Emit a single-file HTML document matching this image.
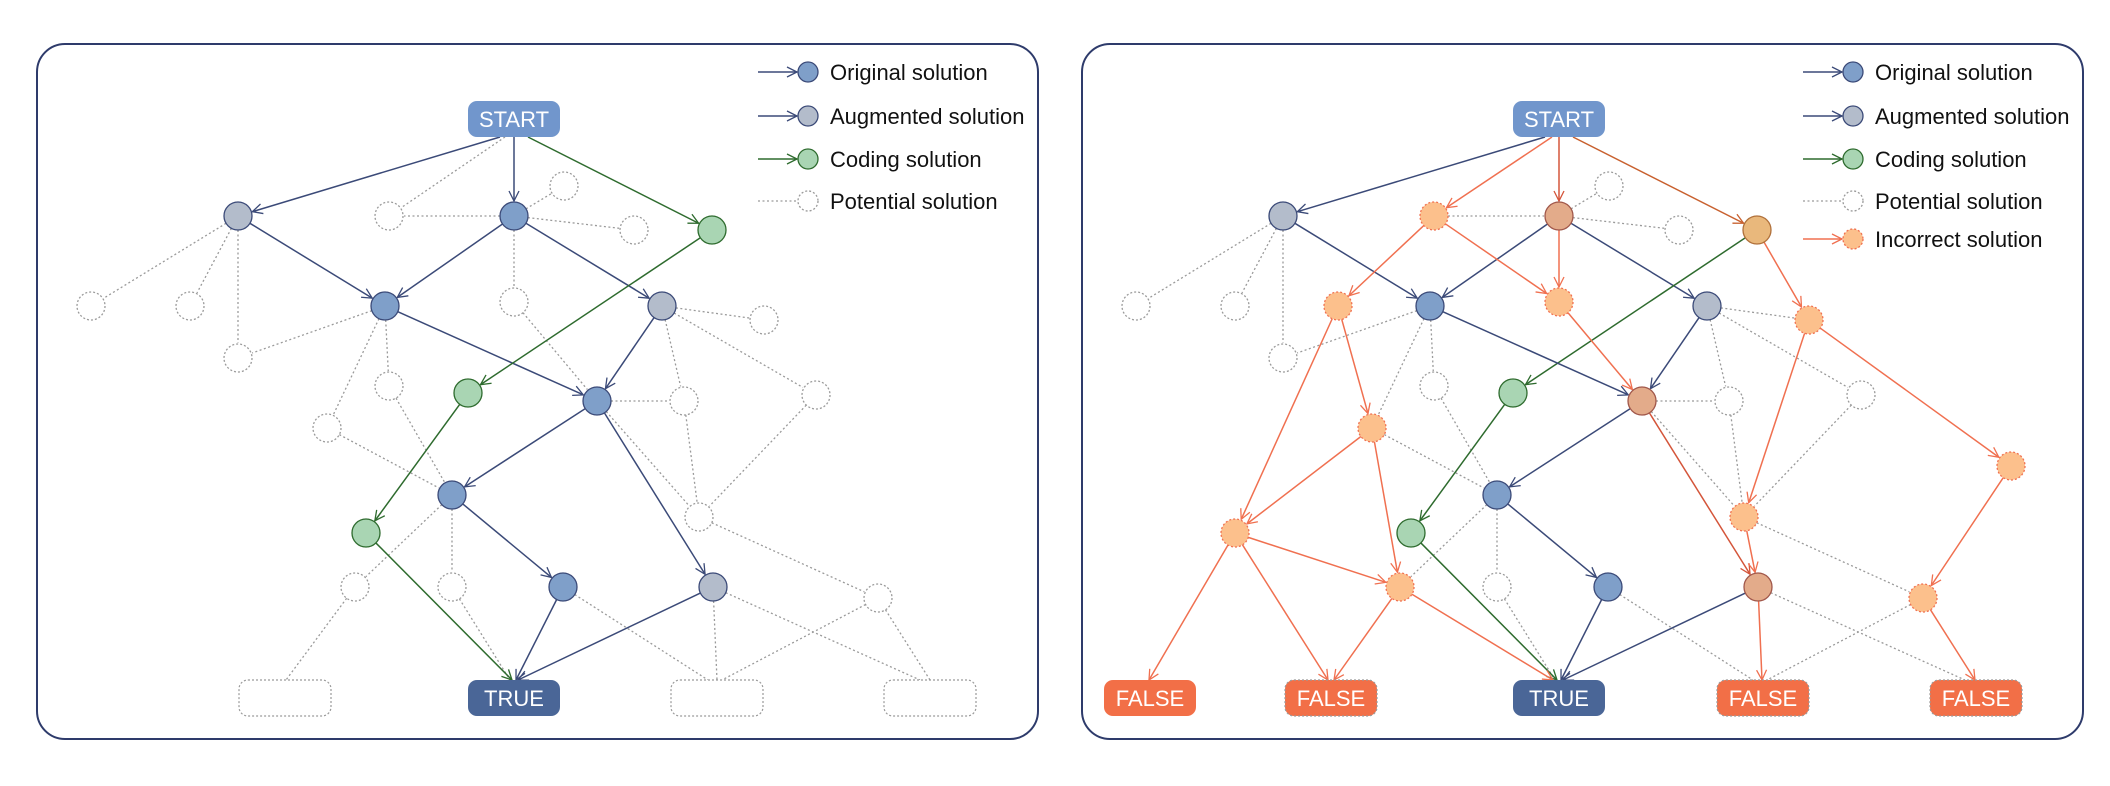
<!DOCTYPE html>
<html><head><meta charset="utf-8"><style>
html,body{margin:0;padding:0;background:#fff;width:2110px;height:786px;overflow:hidden}
svg text{font-family:"Liberation Sans",sans-serif}
</style></head><body>
<svg id="s" width="2110" height="786" viewBox="0 0 2110 786" xmlns="http://www.w3.org/2000/svg">
<defs>
<marker id="mn" viewBox="0 0 12 12" refX="11" refY="6" markerWidth="12" markerHeight="12" markerUnits="userSpaceOnUse" orient="auto"><path d="M1,1 L11,6 L1,11" fill="none" stroke="#3b4a78" stroke-width="1.3"/></marker>
<marker id="mg" viewBox="0 0 12 12" refX="11" refY="6" markerWidth="12" markerHeight="12" markerUnits="userSpaceOnUse" orient="auto"><path d="M1,1 L11,6 L1,11" fill="none" stroke="#2e6b2e" stroke-width="1.3"/></marker>
<marker id="mo" viewBox="0 0 12 12" refX="11" refY="6" markerWidth="12" markerHeight="12" markerUnits="userSpaceOnUse" orient="auto"><path d="M1,1 L11,6 L1,11" fill="none" stroke="#f07050" stroke-width="1.3"/></marker>
<marker id="mr" viewBox="0 0 12 12" refX="11" refY="6" markerWidth="12" markerHeight="12" markerUnits="userSpaceOnUse" orient="auto"><path d="M1,1 L11,6 L1,11" fill="none" stroke="#d4553a" stroke-width="1.3"/></marker>
<marker id="mb" viewBox="0 0 12 12" refX="11" refY="6" markerWidth="12" markerHeight="12" markerUnits="userSpaceOnUse" orient="auto"><path d="M1,1 L11,6 L1,11" fill="none" stroke="#c8602e" stroke-width="1.3"/></marker>
</defs>
<rect x="37" y="44" width="1001" height="695" rx="28" fill="none" stroke="#2e3b6b" stroke-width="2"/>
<rect x="1082" y="44" width="1001" height="695" rx="28" fill="none" stroke="#2e3b6b" stroke-width="2"/>
<g id="L"></g>
<g id="R" transform="translate(1045,0)"></g>
</svg>
<script>
const NS="http://www.w3.org/2000/svg";
function el(p,t,a){const e=document.createElementNS(NS,t);for(const k in a)e.setAttribute(k,a[k]);p.appendChild(e);return e;}
const C={navy:"#3b4a78",green:"#2e6b2e",or:"#f07050",red:"#d4553a",brn:"#c8602e",dot:"#9a9a9a"};
const MK={navy:"mn",green:"mg",or:"mo",red:"mr",brn:"mb"};
let R=14;
function pt(N,k){return typeof k==="string"?N[k]:k;}
function edge(g,N,a,b,col,dotted){
  let A=pt(N,a),B=pt(N,b);
  let [x1,y1]=A,[x2,y2]=B;
  const dx=x2-x1,dy=y2-y1,L=Math.hypot(dx,dy),ux=dx/L,uy=dy/L;
  if(typeof a==="string"){x1+=ux*R;y1+=uy*R;}
  if(typeof b==="string"){x2-=ux*(R+1);y2-=uy*(R+1);}
  const at={x1,y1,x2,y2,stroke:dotted?C.dot:C[col],"stroke-width":dotted?1.3:1.5};
  if(dotted)at["stroke-dasharray"]="2 2.5";else at["marker-end"]="url(#"+MK[col]+")";
  el(g,"line",at);
}
const styles={
 o:{fill:"#7f9fc9",stroke:"#3b4a78"},
 a:{fill:"#b3bccb",stroke:"#3b4a78"},
 c:{fill:"#a9d5b3",stroke:"#2e6b2e"},
 p:{fill:"#fff",stroke:"#9a9a9a",dash:1},
 i:{fill:"#fcc08c",stroke:"#f07050",dash:1},
 b:{fill:"#e3ab8a",stroke:"#a0574a"},
 y:{fill:"#e9b87c",stroke:"#b0703a"}
};
function node(g,x,y,s,r){const st=styles[s];const a={cx:x,cy:y,r:r||R,fill:st.fill,stroke:st.stroke,"stroke-width":1.3};if(st.dash)a["stroke-dasharray"]="2 2";el(g,"circle",a);}
function box(g,x,fill,dash){
  const a={x:x,y:680,width:92,height:36,rx:9,fill:fill};
  if(dash){a.stroke="#9a9a9a";a["stroke-dasharray"]="2 2";a["stroke-width"]=1.2;}
  el(g,"rect",a);
}
function legend(g,rows){
  rows.forEach(r=>{
    const at={x1:758,y1:r[0],x2:797,y2:r[0],stroke:r[1]?C[r[1]]:C.dot,"stroke-width":r[1]?1.5:1.3};
    if(r[1])at["marker-end"]="url(#"+MK[r[1]]+")";else at["stroke-dasharray"]="2 2.5";
    el(g,"line",at);node(g,808,r[0],r[2],10);
  });
}
const base={
 A1:[238,216],A2:[514,216],A3:[712,230],P1:[389,216],P2:[564,186],P3:[634,230],
 B1:[385,306],B2:[662,306],Q1:[91,306],Q2:[190,306],Q3:[238,358],Q4:[514,302],Q5:[764,320],
 Cg:[468,393],Cb:[597,401],Q6:[389,386],Q7:[327,428],Q8:[684,401],Q9:[816,395],
 D:[452,495],Q10:[699,517],E:[366,533],
 F1:[355,587],F2:[452,587],F3:[563,587],F4:[713,587],F5:[878,598],
 Q11:[293,306],Q12:[190,533],Q13:[966,466]
};
(function(){
 const g=document.getElementById("L"),N=base;
 const d=[["A2","P1"],["A2","P2"],["A2","P3"],["A2","Q4"],["A1","Q1"],["A1","Q2"],["A1","Q3"],["B1","Q3"],["B1","Q6"],["B1","Q7"],
 ["Q4","Cb"],["Q6","D"],["Q7","D"],["B2","Q5"],["B2","Q8"],["B2","Q9"],["Cb","Q8"],["Q8","Q10"],["Q9","Q10"],["Cb","Q10"],["Q10","F5"],
 ["D","F1"],["D","F2"],["F1",[286,680]],["F2",[510,680]],["F3",[708,680]],["F4",[717,680]],["F5",[722,680]],["F4",[920,680]],["F5",[930,680]],[[505,137],"P1"]];
 d.forEach(e=>edge(g,N,e[0],e[1],null,true));
 const s=[[[500,137],"A1","navy"],[[514,137],"A2","navy"],[[528,137],"A3","green"],["A1","B1","navy"],["A2","B1","navy"],["A2","B2","navy"],
 ["B1","Cb","navy"],["B2","Cb","navy"],["Cb","D","navy"],["Cb","F4","navy"],["D","F3","navy"],["F3",[516,680],"navy"],["F4",[518,680],"navy"],
 ["A3","Cg","green"],["Cg","E","green"],["E",[512,680],"green"]];
 s.forEach(e=>edge(g,N,e[0],e[1],e[2]));
 const ns={A1:"a",A2:"o",A3:"c",P1:"p",P2:"p",P3:"p",B1:"o",B2:"a",Q1:"p",Q2:"p",Q3:"p",Q4:"p",Q5:"p",Cg:"c",Cb:"o",Q6:"p",Q7:"p",Q8:"p",Q9:"p",D:"o",Q10:"p",E:"c",F1:"p",F2:"p",F3:"o",F4:"a",F5:"p"};
 for(const k in ns)node(g,N[k][0],N[k][1],ns[k]);
 el(g,"rect",{x:468,y:101,width:92,height:36,rx:9,fill:"#7196cc"});
 box(g,239,"#fff",true);box(g,468,"#4a6697");box(g,671,"#fff",true);box(g,884,"#fff",true);
 legend(g,[[72,"navy","o"],[116,"navy","a"],[159,"green","c"],[201,null,"p"]]);
})();
(function(){
 const g=document.getElementById("R"),N=base;
 const d=[["P1","A2"],["A2","P2"],["A2","P3"],["A1","Q1"],["A1","Q2"],["A1","Q3"],["B1","Q3"],["B1","Q6"],["B1","Q7"],["Q6","D"],["Q7","D"],
 ["B2","Q5"],["B2","Q8"],["B2","Q9"],["Cb","Q8"],["Q8","Q10"],["Q9","Q10"],["Cb","Q10"],["Q10","F5"],["D","F1"],["D","F2"],["F2",[510,680]],
 ["F3",[708,680]],["F5",[722,680]],["F4",[920,680]]];
 d.forEach(e=>edge(g,N,e[0],e[1],null,true));
 const s=[[[500,137],"A1","navy"],[[507,137],"P1","or"],[[514,137],"A2","red"],[[528,137],"A3","brn"],
 ["A1","B1","navy"],["A2","B1","navy"],["A2","B2","navy"],["A2","Q4","or"],["P1","Q11","or"],["P1","Q4","or"],["A3","Cg","green"],["A3","Q5","or"],
 ["Q11","Q7","or"],["Q11","Q12","or"],["Q4","Cb","or"],["B1","Cb","navy"],["B2","Cb","navy"],["Cb","D","navy"],["Cb","F4","red"],
 ["Q5","Q10","or"],["Q5","Q13","or"],["Q7","Q12","or"],["Q7","F1","or"],["Cg","E","green"],["E",[512,680],"green"],
 ["D","F3","navy"],["F3",[516,680],"navy"],["F4",[518,680],"navy"],["Q10","F4","or"],["Q13","F5","or"],
 ["Q12",[104,680],"or"],["Q12",[283,680],"or"],["Q12","F1","or"],["F1",[289,680],"or"],["F1",[508,680],"or"],["F4",[717,680],"or"],["F5",[930,680],"or"]];
 s.forEach(e=>edge(g,N,e[0],e[1],e[2]));
 const ns={A1:"a",A2:"b",A3:"y",P1:"i",P2:"p",P3:"p",B1:"o",B2:"a",Q1:"p",Q2:"p",Q3:"p",Q4:"i",Q5:"i",Q11:"i",Cg:"c",Cb:"b",Q6:"p",Q7:"i",Q8:"p",Q9:"p",Q13:"i",D:"o",Q10:"i",E:"c",Q12:"i",F1:"i",F2:"p",F3:"o",F4:"b",F5:"i"};
 for(const k in ns)node(g,N[k][0],N[k][1],ns[k]);
 el(g,"rect",{x:468,y:101,width:92,height:36,rx:9,fill:"#7196cc"});
 box(g,59,"#f26f47");box(g,240,"#f26f47",true);box(g,468,"#4a6697");box(g,672,"#f26f47",true);box(g,885,"#f26f47",true);
 legend(g,[[72,"navy","o"],[116,"navy","a"],[159,"green","c"],[201,null,"p"],[239,"or","i"]]);
})();
</script>
<svg width="2110" height="786" style="position:absolute;left:0;top:0" xmlns="http://www.w3.org/2000/svg">
<g font-family="Liberation Sans, sans-serif" fill="#fff" font-size="22" text-anchor="middle">
<text x="514" y="127">START</text>
<text x="514" y="706">TRUE</text>
<text x="1559" y="127">START</text>
<text x="1150" y="706">FALSE</text>
<text x="1331" y="706">FALSE</text>
<text x="1559" y="706">TRUE</text>
<text x="1763" y="706">FALSE</text>
<text x="1976" y="706">FALSE</text>
</g>
<g font-family="Liberation Sans, sans-serif" fill="#111" font-size="22">
<text x="830" y="80">Original solution</text>
<text x="830" y="124">Augmented solution</text>
<text x="830" y="167">Coding solution</text>
<text x="830" y="209">Potential solution</text>
<text x="1875" y="80">Original solution</text>
<text x="1875" y="124">Augmented solution</text>
<text x="1875" y="167">Coding solution</text>
<text x="1875" y="209">Potential solution</text>
<text x="1875" y="247">Incorrect solution</text>
</g>
</svg>
</body></html>
